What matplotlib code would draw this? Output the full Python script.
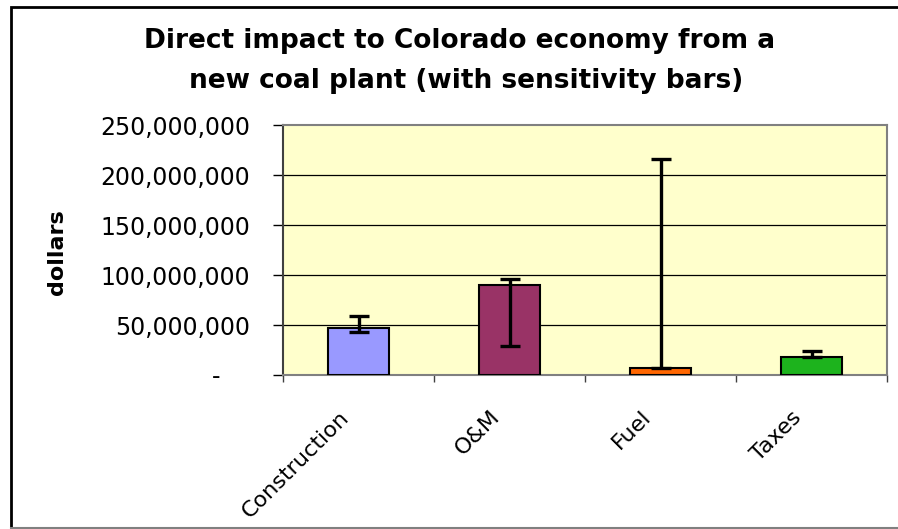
import matplotlib
matplotlib.use("Agg")
import matplotlib.pyplot as plt
import numpy as np
from matplotlib.ticker import FixedLocator, NullFormatter
from matplotlib.patches import Rectangle

categories = ["Construction", "O&M", "Fuel", "Taxes"]
values = [47.5e6, 90.5e6, 7.5e6, 17.8e6]
err_low = [43.5e6, 29.5e6, 7.3e6, 17.8e6]
err_high = [59.0e6, 96.5e6, 216.0e6, 23.8e6]
colors = ["#9999FF", "#993366", "#FF6600", "#1DB31D"]
yticks = [0, 50e6, 100e6, 150e6, 200e6, 250e6]
ytick_labels = ["-", "50,000,000", "100,000,000", "150,000,000", "200,000,000", "250,000,000"]
title_lines = ["Direct impact to Colorado economy from a",
               "new coal plant (with sensitivity bars)"]
ylabel = "dollars"

plt.rcParams['font.family'] = ['DejaVu Sans']

W, H = 898, 529
DPI = 100
fig = plt.figure(figsize=(W / DPI, H / DPI), dpi=DPI)
fig.patch.set_facecolor("white")

# figure border
fig.patches.append(Rectangle((11 / W, 1 - 528 / H), (905 - 11) / W, (528 - 7) / H,
                             transform=fig.transFigure, fill=False,
                             edgecolor="black", linewidth=2, zorder=0))
fig.add_artist(plt.Line2D([11 / W, 1], [1 - 528 / H, 1 - 528 / H], transform=fig.transFigure,
                          color="#808080", linewidth=1.5))

ax = fig.add_axes([283 / W, 1 - 375 / H, 604 / W, 249.5 / H])
ax.set_facecolor("#FFFFCC")

x = np.arange(len(categories))
vals = np.array(values)
yerr = np.array([vals - np.array(err_low), np.array(err_high) - vals])
ax.bar(x, vals, width=0.41, color=colors, edgecolor="black", linewidth=1.5, zorder=3)
ax.errorbar(x, vals, yerr=yerr, fmt="none", ecolor="black", elinewidth=2.4,
            capsize=7, capthick=2.4, zorder=4)

ax.set_xlim(-0.5, len(categories) - 0.5)
ax.set_ylim(0, 250e6)
ax.yaxis.set_major_locator(FixedLocator(yticks))
ax.yaxis.set_major_formatter(NullFormatter())
for yv in yticks[1:-1]:
    ax.axhline(yv, color="black", linewidth=0.9, zorder=1)

ax.set_xticks(np.arange(-0.5, len(categories), 1.0))
ax.xaxis.set_major_formatter(NullFormatter())
ax.tick_params(axis="x", which="major", length=5, width=1, color="#404040", direction="out")
ax.tick_params(axis="y", length=7, width=1, color="black", direction="out")

for s in ax.spines.values():
    s.set_color("#808080")
    s.set_linewidth(1.5)
ax.spines["left"].set_color("#404040")

# y tick labels
for yv, lab in zip(yticks, ytick_labels):
    off = -63 if lab == "-" else -33
    ax.annotate(lab, xy=(0, yv), xycoords=("axes fraction", "data"),
                xytext=(off, 0), textcoords="offset pixels",
                ha="right", va="center_baseline", fontsize=17, annotation_clip=False)

# x category labels
for xi, lab in zip(x, categories):
    ax.annotate(lab, xy=(xi, 0), xycoords=("data", "axes fraction"),
                xytext=(-20, -32), textcoords="offset pixels",
                ha="right", va="top", rotation=45, rotation_mode="anchor",
                fontsize=16, annotation_clip=False)

# title (two centred lines)
fig.text(460 / W, 1 - 47.5 / H, title_lines[0], ha="center", va="baseline",
         fontsize=19, fontweight="bold")
fig.text(466.5 / W, 1 - 88 / H, title_lines[1], ha="center", va="baseline",
         fontsize=19, fontweight="bold")

fig.text(57 / W, 1 - 252 / H, ylabel, ha="center", va="center", rotation=90,
         fontsize=16, fontweight="bold")

fig.savefig("out.png", dpi=DPI)
